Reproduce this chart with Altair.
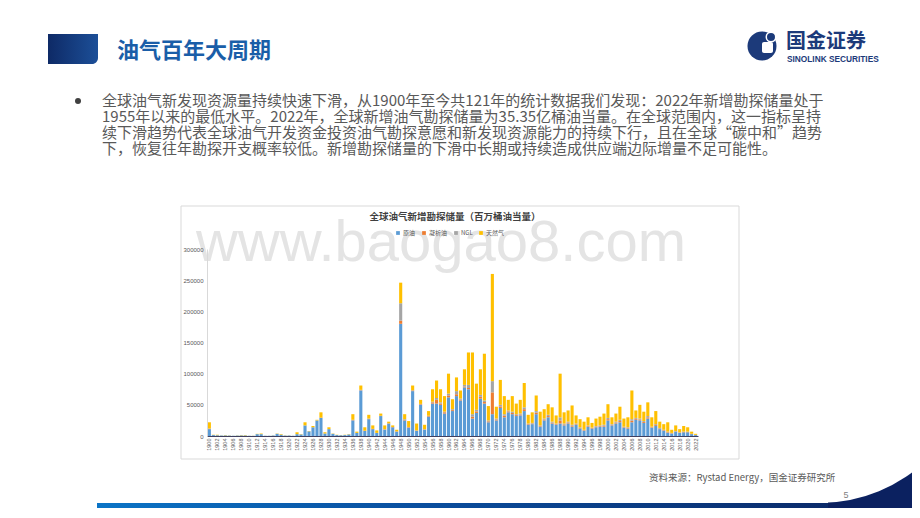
import altair as alt
import pandas as pd

# ---------------- data ----------------
years = list(range(1900, 2023))
crude = [11000, 1500, 1200, 800, 1000, 700, 400, 700, 1000, 900,
         400, 300, 3000, 3000, 400, 400, 800, 3500, 2000, 700,
         800, 400, 3000, 2500, 17000, 7500, 14000, 25000, 29000, 4000,
         11000, 3500, 1500, 1200, 1500, 2500, 25000, 5000, 73000, 8000,
         27000, 11000, 5000, 32000, 10000, 20000, 14000, 7000, 180000, 25000,
         13000, 72000, 8000, 50000, 10000, 31000, 52000, 52000, 50000, 36000,
         62000, 40000, 64000, 57000, 78000, 75000, 28000, 37000, 60000, 52000,
         22000, 35000, 25000, 45000, 30000, 38000, 35000, 32000, 33000, 40000,
         18000, 19000, 35000, 15000, 25000, 30000, 20000, 18000, 20000, 17000,
         20000, 15000, 18000, 12000, 8000, 15000, 12000, 14000, 15000, 15000,
         25000, 17000, 20000, 22000, 13000, 12000, 22000, 26000, 25000, 21000,
         28000, 13000, 16000, 11000, 8000, 5000, 4000, 7000, 5000, 6000,
         6000, 3000, 1500]
condensate = [500, 0, 0, 0, 0, 0, 0, 0, 0, 0,
              0, 0, 0, 0, 0, 0, 0, 0, 0, 0,
              0, 0, 0, 0, 0, 0, 0, 0, 500, 0,
              0, 0, 0, 0, 0, 0, 500, 0, 500, 500,
              500, 500, 0, 500, 500, 500, 500, 500, 5000, 1000,
              1000, 1000, 500, 1000, 500, 1000, 2000, 6000, 2000, 2000,
              3000, 1500, 3000, 1500, 1500, 2000, 3000, 2500, 3000, 2500,
              1500, 35000, 1500, 2500, 2500, 1500, 2000, 1500, 1500, 3000,
              1000, 1000, 2500, 1000, 1500, 2000, 1500, 1000, 5000, 1500,
              1500, 1500, 1000, 1000, 1000, 1000, 1000, 1000, 1000, 1500,
              2000, 1000, 1500, 2000, 1000, 1000, 2500, 1500, 1500, 1500,
              2000, 1000, 1500, 1000, 1000, 1000, 500, 500, 500, 500,
              500, 300, 200]
ngl = [500, 0, 0, 0, 0, 0, 0, 0, 0, 0,
       0, 0, 0, 0, 0, 0, 0, 0, 0, 0,
       0, 0, 0, 0, 0, 0, 0, 0, 0, 0,
       0, 0, 0, 0, 0, 0, 500, 0, 500, 0,
       500, 0, 0, 0, 500, 0, 0, 0, 28000, 1000,
       500, 500, 500, 500, 500, 500, 1000, 3000, 2000, 1000,
       3000, 1500, 5000, 1500, 2500, 5000, 4000, 2500, 3000, 2500,
       1500, 18000, 1500, 2500, 2500, 1500, 2000, 1500, 1500, 3000,
       1000, 1000, 2500, 1000, 1500, 2000, 1500, 1000, 5000, 1500,
       1500, 1500, 1000, 1000, 1000, 1000, 500, 1000, 1000, 1500,
       2000, 1000, 1500, 2000, 1000, 1000, 2500, 1500, 1500, 1500,
       2000, 1000, 1500, 1000, 1000, 1000, 500, 500, 500, 500,
       500, 300, 200]
gas = [10000, 500, 800, 200, 500, 300, 100, 300, 500, 600,
       100, 200, 500, 1000, 100, 100, 200, 500, 1000, 300,
       200, 100, 3000, 500, 5000, 500, 2000, 1000, 8500, 2000,
       3000, 500, 500, 300, 500, 500, 9000, 2000, 7000, 5500,
       6000, 5500, 4000, 3500, 6000, 2500, 2500, 2500, 33000, 8000,
       9500, 7500, 11000, 6500, 7000, 7500, 20000, 28000, 21000, 25000,
       32000, 16000, 22000, 13000, 25000, 52000, 99000, 42000, 41000, 75000,
       23000, 172000, 19000, 40000, 29000, 17000, 25000, 17000, 22000, 39000,
       14000, 17000, 25000, 22000, 15000, 17000, 23000, 13000, 70000, 18000,
       18000, 31000, 13000, 13000, 13000, 13000, 7500, 12000, 14000, 18000,
       22000, 11000, 13000, 21000, 13000, 16000, 46000, 12000, 22000, 15000,
       22000, 15000, 21000, 10000, 9000, 15000, 5000, 9000, 5000, 9000,
       7000, 3400, 1600]

series_names = ["原油", "凝析油", "NGL", "天然气"]
series_colors = ["#5B9BD5", "#ED7D31", "#A5A5A5", "#FFC000"]
y_ticks = [0, 50000, 100000, 150000, 200000, 250000, 300000]
x_label_years = [str(y) for y in years if y % 2 == 0]

bullet_lines = [
    "全球油气新发现资源量持续快速下滑，从1900年至今共121年的统计数据我们发现：2022年新增勘探储量处于",
    "1955年以来的最低水平。2022年，全球新增油气勘探储量为35.35亿桶油当量。在全球范围内，这一指标呈持",
    "续下滑趋势代表全球油气开发资金投资油气勘探意愿和新发现资源能力的持续下行，且在全球“碳中和”趋势",
    "下，恢复往年勘探开支概率较低。新增勘探储量的下滑中长期或持续造成供应端边际增量不足可能性。",
]
slide_title = "油气百年大周期"
chart_title = "全球油气新增勘探储量（百万桶油当量）"
source_text = "资料来源：Rystad Energy，国金证券研究所"

rows = []
for i, yr in enumerate(years):
    for k, arr in enumerate([crude, condensate, ngl, gas]):
        rows.append({"year": str(yr), "series": series_names[k], "ord": k, "value": arr[i]})
df = pd.DataFrame(rows)

# ---------------- layout helpers ----------------
PAD_L, PAD_T = 199, 241
W, H = 491, 187
PAD_R = 904 - PAD_L - W
PAD_B = 500 - PAD_T - H
CJK = "Noto Sans CJK SC"


def px(x):
    return x - 8 - PAD_L


def py(y):
    return y - 8 - PAD_T


one = pd.DataFrame({"d": [0]})


def rect(x1, y1, x2, y2, **kw):
    return alt.Chart(one).mark_rect(**kw).encode(
        x=alt.value(px(x1)), x2=alt.value(px(x2)),
        y=alt.value(py(y1)), y2=alt.value(py(y2)))


def text(x, y, s, **kw):
    return alt.Chart(one).mark_text(text=s, **kw).encode(
        x=alt.value(px(x)), y=alt.value(py(y)))


def dot(x, y, size, color, **kw):
    return alt.Chart(one).mark_point(filled=True, shape="circle", size=size,
                                     color=color, opacity=1, **kw).encode(
        x=alt.value(px(x)), y=alt.value(py(y)))


layers = []
# bottom gradient band
layers.append(rect(97, 503, 912, 518, fill=alt.LinearGradient(
    gradient="linear",
    stops=[alt.GradientStop(color="#0b74c6", offset=0),
           alt.GradientStop(color="#0a4e9e", offset=0.4),
           alt.GradientStop(color="#0b2460", offset=1)],
    x1=0, x2=1, y1=0, y2=0)))
# navy corner + white circle carving the curve
layers.append(rect(828, 455, 912, 518, fill="#0b2160"))
layers.append(dot(820, 349, 308 * 308, "white"))

# title block
layers.append(rect(48, 34, 98, 64, cornerRadiusBottomRight=6, fill=alt.LinearGradient(
    gradient="linear",
    stops=[alt.GradientStop(color="#0e2a66", offset=0),
           alt.GradientStop(color="#1c4f98", offset=1)],
    x1=0, x2=1, y1=0, y2=0)))
layers.append(text(117, 51, slide_title, font=CJK, fontSize=22, fontWeight="bold",
                   color="#1a5ea8", align="left", baseline="middle"))

# logo
layers.append(dot(762, 46, 29 * 29, "#1c3a7a"))
layers.append(rect(762, 42, 773, 53, fill="white", cornerRadius=2))
layers.append(dot(771, 37, 90, "#1c3a7a", stroke="white", strokeWidth=1.5))
layers.append(text(786, 42, "国金证券", font=CJK, fontSize=20, fontWeight="bold",
                   color="#1c3a7a", align="left", baseline="middle"))
layers.append(text(787, 60, "SINOLINK SECURITIES", font="Liberation Sans", fontSize=8.3,
                   fontWeight="bold", color="#1c3a7a", align="left", baseline="middle"))

# bullet
layers.append(dot(78, 101, 36, "#404040"))
for i, line in enumerate(bullet_lines):
    layers.append(text(102, 101 + 16 * i, line, font=CJK, fontSize=15, color="#595959",
                       align="left", baseline="middle"))

# chart frame, watermark, chart title
layers.append(rect(181, 206, 739, 459, fill="white", stroke="#d9d9d9", strokeWidth=1))
layers.append(text(441, 261, "www.baogao8.com", font="Liberation Sans", fontSize=58,
                   color="#e4e4e4", align="center", baseline="alphabetic"))
layers.append(text(455, 217, chart_title, font=CJK, fontSize=9.5, fontWeight="bold",
                   color="#404040", align="center", baseline="middle"))

# bars
bars = alt.Chart(df).mark_bar().encode(
    x=alt.X("year:N", sort=[str(y) for y in years],
            scale=alt.Scale(paddingInner=0.22, paddingOuter=0.2),
            axis=alt.Axis(values=x_label_years, labelAngle=270, title=None,
                          labelFontSize=5.5, labelFont="Liberation Sans", ticks=False,
                          domainColor="#404060", domainWidth=1, labelColor="#595959",
                          labelPadding=2, zindex=1)),
    y=alt.Y("value:Q", stack="zero",
            scale=alt.Scale(domain=[0, 300000], nice=False),
            axis=alt.Axis(values=y_ticks, title=None, grid=False, ticks=False,
                          labelFontSize=6, labelFont="Liberation Sans", format="d",
                          domainColor="#d9d9d9", labelColor="#595959", labelPadding=4,
                          zindex=1)),
    color=alt.Color("series:N",
                    scale=alt.Scale(domain=series_names, range=series_colors),
                    legend=alt.Legend(orient="none", legendX=px(395), legendY=py(230),
                                      direction="horizontal", title=None,
                                      symbolType="square", symbolSize=14,
                                      labelFontSize=6, labelFont=CJK, labelColor="#595959",
                                      columnPadding=5, labelOffset=2,
                                      symbolStrokeWidth=0, zindex=1)),
    order=alt.Order("ord:Q", sort="ascending"),
)
layers.append(bars)

# source + page number
layers.append(text(649, 478, source_text, font=CJK, fontSize=9.5, color="#595959",
                   align="left", baseline="middle"))
layers.append(text(846, 495, "5", font="Liberation Sans", fontSize=9, color="#808080",
                   align="center", baseline="middle"))

chart = alt.layer(*layers).properties(
    width=W, height=H,
    autosize=alt.AutoSizeParams(type="none"),
    padding={"left": PAD_L, "top": PAD_T, "right": PAD_R, "bottom": PAD_B},
    background="white",
).configure_view(stroke=None)

chart.save("out.html", embed_options={"renderer": "svg", "actions": False})
